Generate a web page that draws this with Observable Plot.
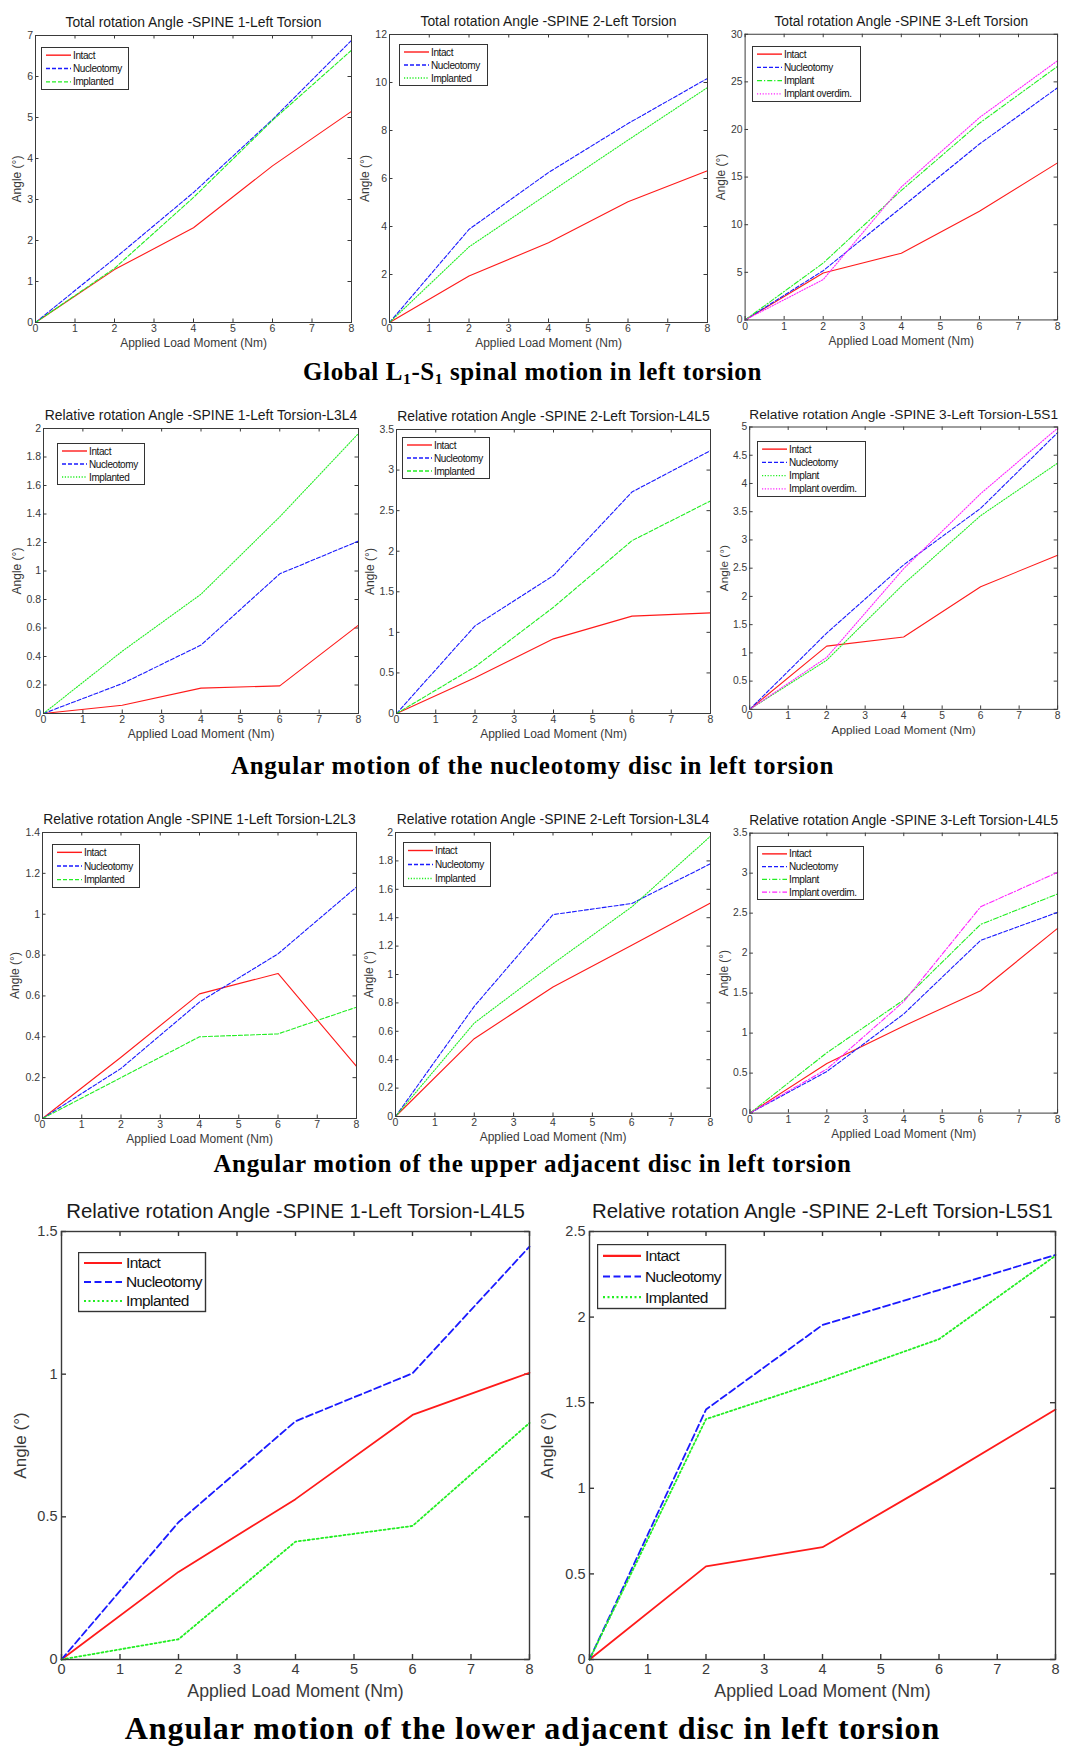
<!DOCTYPE html>
<html><head><meta charset="utf-8">
<script src="https://cdn.jsdelivr.net/npm/d3@7"></script>
<script src="https://cdn.jsdelivr.net/npm/@observablehq/plot@0.6"></script>
<style>
body{margin:0;background:#fff;}
#page{position:relative;width:1065px;height:1747px;overflow:hidden;background:#fff;}
.cap{position:absolute;left:0;width:1065px;text-align:center;font-family:"Liberation Serif","Times New Roman",serif;font-weight:bold;color:#000;white-space:nowrap;line-height:1;}
.cap sub{font-size:0.62em;vertical-align:-0.28em;line-height:0;}
.panel{position:absolute;}
.legend{position:absolute;}
</style></head><body><div id="page"></div>
<script>
// ---------- data ----------
const moments = [0, 2, 4, 6, 8];
const xTicks = [0, 1, 2, 3, 4, 5, 6, 7, 8];
const names3 = ["Intact", "Nucleotomy", "Implanted"];
const names4 = ["Intact", "Nucleotomy", "Implant", "Implant overdim."];

const titles = [
  "Total rotation Angle -SPINE 1-Left Torsion",
  "Total rotation Angle -SPINE 2-Left Torsion",
  "Total rotation Angle -SPINE 3-Left Torsion",
  "Relative rotation Angle -SPINE 1-Left Torsion-L3L4",
  "Relative rotation Angle -SPINE 2-Left Torsion-L4L5",
  "Relative rotation Angle -SPINE 3-Left Torsion-L5S1",
  "Relative rotation Angle -SPINE 1-Left Torsion-L2L3",
  "Relative rotation Angle -SPINE 2-Left Torsion-L3L4",
  "Relative rotation Angle -SPINE 3-Left Torsion-L4L5",
  "Relative rotation Angle -SPINE 1-Left Torsion-L4L5",
  "Relative rotation Angle -SPINE 2-Left Torsion-L5S1"
];
const xLabel = "Applied Load Moment (Nm)";
const yLabel = "Angle (°)";

// Global L1-S1
const tot1Intact = [0, 1.29, 2.31, 3.82, 5.15];
const tot1Nucleo = [0, 1.56, 3.17, 4.95, 6.88];
const tot1Implant = [0, 1.32, 3.05, 4.93, 6.64];
const tot2Intact = [0, 1.94, 3.32, 5.03, 6.32];
const tot2Nucleo = [0, 3.88, 6.25, 8.29, 10.17];
const tot2Implant = [0, 3.15, 5.38, 7.6, 9.79];
const tot3Intact = [0, 4.93, 7.01, 11.42, 16.49];
const tot3Nucleo = [0, 5.17, 11.8, 18.47, 24.38];
const tot3Implant = [0, 5.97, 13.6, 20.66, 26.63];
const tot3Overdim = [0, 4.24, 13.96, 21.25, 27.22];
// nucleotomy disc
const nuc1Intact = [0, 0.058, 0.178, 0.194, 0.62];
const nuc1Nucleo = [0, 0.21, 0.48, 0.98, 1.21];
const nuc1Implant = [0, 0.437, 0.837, 1.38, 1.965];
const nuc2Intact = [0, 0.44, 0.92, 1.2, 1.24];
const nuc2Nucleo = [0, 1.08, 1.7, 2.73, 3.24];
const nuc2Implant = [0, 0.575, 1.31, 2.13, 2.62];
const nuc3Intact = [0, 1.12, 1.28, 2.17, 2.73];
const nuc3Nucleo = [0, 1.35, 2.56, 3.56, 4.9];
const nuc3Implant = [0, 0.87, 2.22, 3.43, 4.36];
const nuc3Overdim = [0, 0.92, 2.49, 3.82, 4.98];
// upper adjacent disc
const up1Intact = [0, 0.3, 0.61, 0.71, 0.255];
const up1Nucleo = [0, 0.245, 0.57, 0.806, 1.133];
const up1Implant = [0, 0.2, 0.4, 0.414, 0.545];
const up2Intact = [0, 0.548, 0.912, 1.206, 1.504];
const up2Nucleo = [0, 0.776, 1.422, 1.5, 1.78];
const up2Implant = [0, 0.658, 1.076, 1.476, 1.974];
const up3Intact = [0, 0.62, 1.09, 1.53, 2.31];
const up3Nucleo = [0, 0.52, 1.24, 2.16, 2.51];
const up3Implant = [0, 0.755, 1.415, 2.36, 2.74];
const up3Overdim = [0, 0.55, 1.395, 2.58, 3.01];
// lower adjacent disc
const low1Intact = [0, 0.307, 0.562, 0.857, 1.005];
const low1Nucleo = [0, 0.481, 0.835, 1.003, 1.447];
const low1Implant = [0, 0.071, 0.413, 0.468, 0.829];
const low2Intact = [0, 0.544, 0.656, 1.052, 1.46];
const low2Nucleo = [0, 1.46, 1.954, 2.158, 2.363];
const low2Implant = [0, 1.404, 1.629, 1.871, 2.359];

// y tick labels
const yTicks7 = [0, 1, 2, 3, 4, 5, 6, 7];
const yTicks12 = [0, 2, 4, 6, 8, 10, 12];
const yTicks30 = [0, 5, 10, 15, 20, 25, 30];
const yTicks2 = [0, 0.2, 0.4, 0.6, 0.8, 1, 1.2, 1.4, 1.6, 1.8, 2];
const yTicks35 = [0, 0.5, 1, 1.5, 2, 2.5, 3, 3.5];
const yTicks5 = [0, 0.5, 1, 1.5, 2, 2.5, 3, 3.5, 4, 4.5, 5];
const yTicks14 = [0, 0.2, 0.4, 0.6, 0.8, 1, 1.2, 1.4];
const yTicks15 = [0, 0.5, 1, 1.5];
const yTicks25 = [0, 0.5, 1, 1.5, 2, 2.5];

const captions = [
  "Global L<sub>1</sub>-S<sub>1</sub> spinal motion in left torsion",
  "Angular motion of the nucleotomy disc in left torsion",
  "Angular motion of the upper adjacent disc in left torsion",
  "Angular motion of the lower adjacent disc in left torsion"
];

// ---------- styles / layout ----------
const colors = ["#ff1a1a", "#1a1aff", "#22ee22", "#ff22ff"];
const dashSmall = {solid: null, dash: "4,2", dot: "1.2,1.6", dashdot: "5,2,1.2,2"};
const dashBig = {solid: null, dash: "7,3.5", dot: "2,2.5", dashdot: "8,3,2,3"};

const sizes = {
  small: {mL: 50, mR: 8, mT: 30, mB: 40, title: 13.9, tick: 10.5, xl: 12, yl: 12, titleDy: -12.5, tickPad: 2.5, xlDy: 21, tickLen: 3.5, lw: 1.1, stroke: 1, legFont: 10, legLine: [5, 30], legText: 32, dash: dashSmall},
  big: {mL: 60, mR: 10, mT: 35, mB: 48, title: 20.4, tick: 14.5, xl: 17.7, yl: 17, titleDy: -20, tickPad: 4, xlDy: 32, tickLen: 5, lw: 1.8, stroke: 1.4, legFont: 15.5, legLine: [6, 44], legText: 48, dash: dashBig}
};

const panels = [
  {t: 0, names: names3, vals: [tot1Intact, tot1Nucleo, tot1Implant], yd: [0, 7], yt: yTicks7, fr: [35, 35, 351, 322], sz: "small", ls: ["solid", "dash", "dash"], leg: [6, 12, 87, 42], ylDx: -18},
  {t: 1, names: names3, vals: [tot2Intact, tot2Nucleo, tot2Implant], yd: [0, 12], yt: yTicks12, fr: [389, 34, 707, 322], sz: "small", ls: ["solid", "dash", "dot"], leg: [10, 10, 88, 41], ylDx: -24},
  {t: 2, names: names4, vals: [tot3Intact, tot3Nucleo, tot3Implant, tot3Overdim], yd: [0, 30], yt: yTicks30, fr: [745, 34, 1060, 322], sz: "small", ls: ["solid", "dash", "dashdot", "dot"], leg: [7, 12, 108, 55], ylDx: -24},
  {t: 3, names: names3, vals: [nuc1Intact, nuc1Nucleo, nuc1Implant], yd: [0, 2], yt: yTicks2, fr: [43, 428, 358, 713], sz: "small", ls: ["solid", "dash", "dot"], leg: [14, 15, 87, 41], ylDx: -26},
  {t: 4, names: names3, vals: [nuc2Intact, nuc2Nucleo, nuc2Implant], yd: [0, 3.5], yt: yTicks35, fr: [396, 429, 710, 713], sz: "small", ls: ["solid", "dash", "dash"], leg: [6, 8, 87, 41], ylDx: -26},
  {t: 5, names: names4, vals: [nuc3Intact, nuc3Nucleo, nuc3Implant, nuc3Overdim], yd: [0, 5], yt: yTicks5, fr: [750, 427, 1063, 714], sz: "small", ls: ["solid", "dash", "dot", "dot"], leg: [7, 14, 108, 55], ylDx: -26},
  {t: 6, names: names3, vals: [up1Intact, up1Nucleo, up1Implant], yd: [0, 1.4], yt: yTicks14, fr: [42, 832, 356, 1118], sz: "small", ls: ["solid", "dash", "dash"], leg: [10, 12, 87, 43], ylDx: -27},
  {t: 7, names: names3, vals: [up2Intact, up2Nucleo, up2Implant], yd: [0, 2], yt: yTicks2, fr: [395, 832, 710, 1116], sz: "small", ls: ["solid", "dash", "dot"], leg: [8, 10, 87, 44], ylDx: -26},
  {t: 8, names: names4, vals: [up3Intact, up3Nucleo, up3Implant, up3Overdim], yd: [0, 3.5], yt: yTicks35, fr: [750, 833, 1061, 1116], sz: "small", ls: ["solid", "dash", "dashdot", "dashdot"], leg: [7, 13, 106, 53], ylDx: -26},
  {t: 9, names: names3, vals: [low1Intact, low1Nucleo, low1Implant], yd: [0, 1.5], yt: yTicks15, fr: [61, 1231, 529, 1659], sz: "big", ls: ["solid", "dash", "dot"], leg: [17, 21, 127, 59], ylDx: -41},
  {t: 10, names: names3, vals: [low2Intact, low2Nucleo, low2Implant], yd: [0, 2.5], yt: yTicks25, fr: [589, 1231, 1055, 1659], sz: "big", ls: ["solid", "dash", "dot"], leg: [8, 13, 128, 64], ylDx: -42}
];

const capLayout = [
  {baseline: 380, size: 25, ls: 0.6},
  {baseline: 774, size: 25, ls: 0.75},
  {baseline: 1172, size: 25, ls: 0.65},
  {baseline: 1739, size: 32, ls: 0.9}
];

const page = document.getElementById("page");
const sansFont = '"Liberation Sans", Arial, sans-serif';

panels.forEach(p => {
  const s = sizes[p.sz];
  const [L, T, R, B] = p.fr;
  const W = R - L, H = B - T;
  const lines = p.vals.map((vals, i) => Plot.line(
    moments.map((m, j) => ({x: m, y: vals[j]})),
    {x: "x", y: "y", stroke: colors[i], strokeWidth: s.lw, strokeDasharray: s.dash[p.ls[i]]}
  ));
  const axisColor = "#3a3a3a";
  const chart = Plot.plot({
    width: W + s.mL + s.mR,
    height: H + s.mT + s.mB,
    marginLeft: s.mL, marginRight: s.mR, marginTop: s.mT, marginBottom: s.mB,
    x: {domain: [0, 8]},
    y: {domain: p.yd},
    style: {fontFamily: sansFont, background: "transparent", overflow: "visible", color: axisColor},
    marks: [
      Plot.axisX(xTicks, {tickSize: 0, tickPadding: s.tickPad, label: null, fontSize: s.tick, fill: axisColor, tickFormat: d => String(d)}),
      Plot.axisY(p.yt, {tickSize: 0, tickPadding: s.tickPad, label: null, fontSize: s.tick, fill: axisColor, tickFormat: d => String(d)}),
      Plot.tickX(xTicks, {x: d => d, insetTop: H - s.tickLen, stroke: axisColor, strokeWidth: s.stroke}),
      Plot.tickX(xTicks, {x: d => d, insetBottom: H - s.tickLen, stroke: axisColor, strokeWidth: s.stroke}),
      Plot.tickY(p.yt, {y: d => d, insetRight: W - s.tickLen, stroke: axisColor, strokeWidth: s.stroke}),
      Plot.tickY(p.yt, {y: d => d, insetLeft: W - s.tickLen, stroke: axisColor, strokeWidth: s.stroke}),
      ...lines,
      Plot.frame({stroke: axisColor, strokeWidth: s.stroke}),
      Plot.text([titles[p.t]], {text: d => d, frameAnchor: "top", lineAnchor: "middle", textAnchor: "middle", dy: s.titleDy, fontSize: s.title, fill: "#1a1a1a"}),
      Plot.text([xLabel], {text: d => d, frameAnchor: "bottom", lineAnchor: "middle", textAnchor: "middle", dy: s.xlDy, fontSize: s.xl, fill: axisColor}),
      Plot.text([yLabel], {text: d => d, frameAnchor: "left", lineAnchor: "middle", textAnchor: "middle", dx: p.ylDx, rotate: -90, fontSize: s.yl, fill: axisColor})
    ]
  });
  const wrap = document.createElement("div");
  wrap.className = "panel";
  wrap.style.left = (L - s.mL) + "px";
  wrap.style.top = (T - s.mT) + "px";
  wrap.appendChild(chart);
  page.appendChild(wrap);

  // legend box inside the plot frame
  const [lx, ly, lw, lh] = p.leg;
  const n = p.names.length;
  const rowH = (lh - 2) / n;
  const leg = d3.select(page).append("div").attr("class", "legend")
    .style("left", (L + lx) + "px").style("top", (T + ly) + "px");
  const svg = leg.append("svg").attr("width", lw + 2).attr("height", lh + 2).style("display", "block");
  svg.append("rect").attr("x", 0.5).attr("y", 0.5).attr("width", lw).attr("height", lh)
    .attr("fill", "#fff").attr("stroke", "#333").attr("stroke-width", s.stroke);
  p.names.forEach((name, i) => {
    const cy = 1.5 + rowH * (i + 0.5);
    svg.append("line").attr("x1", s.legLine[0]).attr("x2", s.legLine[1]).attr("y1", cy).attr("y2", cy)
      .attr("stroke", colors[i]).attr("stroke-width", s.lw + 0.3)
      .attr("stroke-dasharray", s.dash[p.ls[i]]);
    svg.append("text").attr("x", s.legText).attr("y", cy).attr("dy", "0.35em")
      .attr("font-family", sansFont).attr("font-size", s.legFont)
      .attr("letter-spacing", p.sz === "big" ? "-0.6px" : "-0.4px")
      .attr("fill", "#111").text(name);
  });
});

captions.forEach((c, i) => {
  const cl = capLayout[i];
  const d = document.createElement("div");
  d.className = "cap";
  d.style.fontSize = cl.size + "px";
  d.style.letterSpacing = cl.ls + "px";
  d.style.top = (cl.baseline - 0.8375 * cl.size) + "px";
  d.innerHTML = c;
  page.appendChild(d);
});
</script>
</body></html>
